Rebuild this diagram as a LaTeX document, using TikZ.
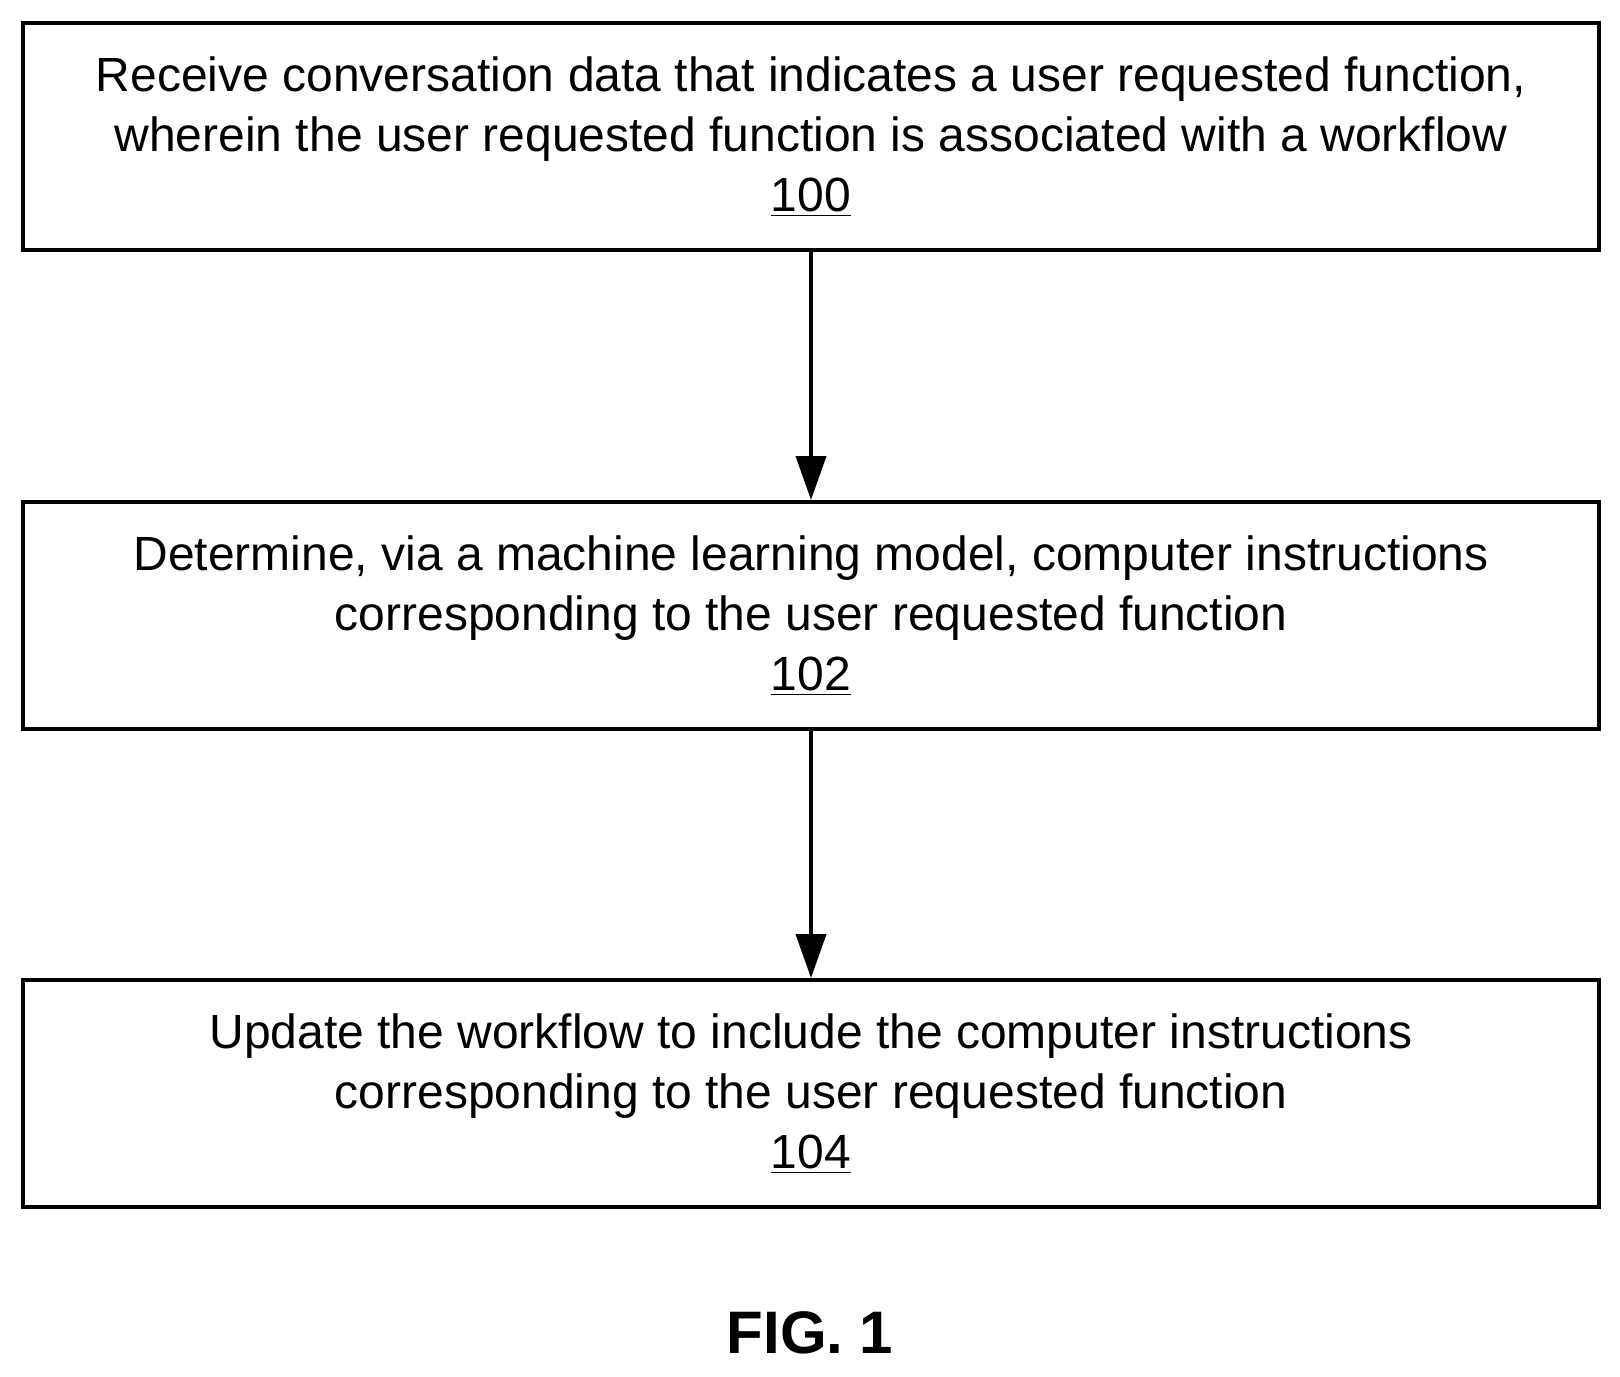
\documentclass[tikz,border=0pt]{standalone}
\usepackage{fontspec}
\setmainfont{Liberation Sans}
\usetikzlibrary{arrows.meta}
\begin{document}
\begin{tikzpicture}[x=0.5pt,y=-0.5pt,
 box/.style={draw,line width=2pt,minimum width=788pt,minimum height=113.5pt,anchor=north west,inner sep=0pt,align=center,font=\fontsize{24}{30}\selectfont},
 arr/.style={line width=2pt,-{Triangle[length=22pt,width=15pt]}}]
\useasboundingbox (0,0) rectangle (1620,1376);
\node[box] (a) at (21,21) {Receive conversation data that indicates a user requested function,\\wherein the user requested function is associated with a workflow\\\underline{100}};
\node[box] (b) at (21,500) {Determine, via a machine learning model, computer instructions\\corresponding to the user requested function\\\underline{102}};
\node[box] (c) at (21,978) {Update the workflow to include the computer instructions\\corresponding to the user requested function\\\underline{104}};
\draw[arr] (a) -- (b);
\draw[arr] (b) -- (c);
\node[font=\bfseries\fontsize{30}{36}\selectfont] (f) at (810,1333) {FIG. 1};
\end{tikzpicture}
\end{document}
